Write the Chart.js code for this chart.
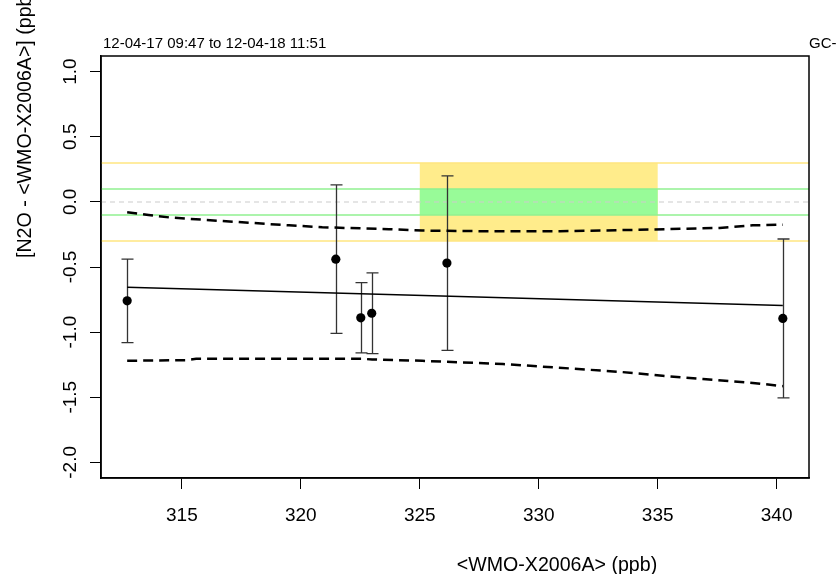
<!DOCTYPE html>
<html>
<head>
<meta charset="utf-8">
<script src="https://cdn.jsdelivr.net/npm/chart.js@4/dist/chart.umd.min.js"></script>
<style>
  html, body { margin: 0; padding: 0; background: #fff; }
  canvas { display: block; }
</style>
</head>
<body>
<canvas id="gcCanvas" width="838" height="574"></canvas>
<script>
// measurements (x = reference value, y = difference)
const xVals = [312.70, 321.47, 322.52, 322.98, 326.14, 340.26];
const yVals = [-0.76, -0.44, -0.89, -0.855, -0.47, -0.895];
const yErr = [0.32, 0.57, 0.27, 0.31, 0.67, 0.61];

// fitted line
const fitX = [312.70, 340.26];
const fitY = [-0.655, -0.795];

// confidence band
const upperX = [312.7, 313.6, 314.5, 315.3, 317.8, 319.5, 320.9, 321.9, 323.7, 325.1, 327.5, 330.9, 334.1, 337.6, 339.0, 340.26];
const upperY = [-0.08, -0.10, -0.12, -0.13, -0.16, -0.18, -0.195, -0.20, -0.21, -0.22, -0.225, -0.225, -0.215, -0.20, -0.18, -0.175];
const lowerX = [312.7, 315.2, 315.6, 322.6, 323.0, 325.1, 328.5, 330.6, 333.4, 335.2, 336.9, 339.0, 340.26];
const lowerY = [-1.22, -1.215, -1.205, -1.205, -1.21, -1.22, -1.245, -1.27, -1.305, -1.335, -1.36, -1.39, -1.415];

// target ranges
const compatRange = [325, 335];
const outerLimit = 0.3;
const innerLimit = 0.1;

const xTicks = [315, 320, 325, 330, 335, 340];
const yTicks = [1.0, 0.5, 0.0, -0.5, -1.0, -1.5, -2.0];
const yTickLabels = ["1.0", "0.5", "0.0", "-0.5", "-1.0", "-1.5", "-2.0"];

const titleText = "12-04-17 09:47 to 12-04-18 11:51";
const sideText = "GC-";
const xTitle = "<WMO-X2006A> (ppb)";
const yTitle = "[N2O - <WMO-X2006A>] (ppb)";

const FONT = '"Liberation Sans", Arial, sans-serif';

const toXY = (xs, ys) => xs.map((x, i) => ({ x: x, y: ys[i] }));

const backgroundPlugin = {
  id: "background",
  beforeDatasetsDraw(chart) {
    const { ctx, chartArea: a, scales: { x, y } } = chart;
    ctx.save();
    ctx.beginPath();
    ctx.rect(a.left, a.top, a.right - a.left, a.bottom - a.top);
    ctx.clip();

    const x0 = x.getPixelForValue(compatRange[0]);
    const x1 = x.getPixelForValue(compatRange[1]);
    ctx.fillStyle = "#FFEC8B";
    ctx.fillRect(x0, y.getPixelForValue(outerLimit), x1 - x0,
      y.getPixelForValue(-outerLimit) - y.getPixelForValue(outerLimit));
    ctx.fillStyle = "#98FB98";
    ctx.fillRect(x0, y.getPixelForValue(innerLimit), x1 - x0,
      y.getPixelForValue(-innerLimit) - y.getPixelForValue(innerLimit));

    const hline = (v, color, dash, w) => {
      const py = Math.round(y.getPixelForValue(v));
      ctx.strokeStyle = color;
      ctx.lineWidth = w;
      ctx.setLineDash(dash);
      ctx.beginPath();
      ctx.moveTo(a.left, py);
      ctx.lineTo(a.right, py);
      ctx.stroke();
    };
    hline(outerLimit, "#FFE680", [], 1.6);
    hline(-outerLimit, "#FFE680", [], 1.6);
    hline(innerLimit, "#90F090", [], 1.6);
    hline(-innerLimit, "#90F090", [], 1.6);
    hline(0, "#CCCCCC", [5, 4], 1.2);
    ctx.setLineDash([]);

    // error bars
    ctx.strokeStyle = "#333";
    ctx.lineWidth = 1.3;
    xVals.forEach((v, i) => {
      const px = Math.round(x.getPixelForValue(v)) + 0.5;
      const top = y.getPixelForValue(yVals[i] + yErr[i]);
      const bot = y.getPixelForValue(yVals[i] - yErr[i]);
      ctx.beginPath();
      ctx.moveTo(px, top);
      ctx.lineTo(px, bot);
      ctx.moveTo(px - 6, top);
      ctx.lineTo(px + 6, top);
      ctx.moveTo(px - 6, bot);
      ctx.lineTo(px + 6, bot);
      ctx.stroke();
    });
    ctx.restore();
  },
  afterDraw(chart) {
    const { ctx, chartArea: a, scales: { x, y } } = chart;
    ctx.save();
    ctx.strokeStyle = "#000";
    ctx.lineWidth = 1.5;
    ctx.strokeRect(a.left, a.top, a.right - a.left, a.bottom - a.top);

    ctx.fillStyle = "#000";
    ctx.font = "19px " + FONT;
    ctx.textAlign = "center";
    ctx.textBaseline = "alphabetic";
    xTicks.forEach(v => ctx.fillText(String(v), x.getPixelForValue(v), 521));

    yTicks.forEach((v, i) => {
      ctx.save();
      ctx.translate(76, y.getPixelForValue(v));
      ctx.rotate(-Math.PI / 2);
      ctx.textAlign = "center";
      ctx.fillText(yTickLabels[i], 0, 0);
      ctx.restore();
    });

    ctx.font = "19.6px " + FONT;
    ctx.fillText(xTitle, 557, 571);

    ctx.save();
    ctx.translate(31, 258);
    ctx.rotate(-Math.PI / 2);
    ctx.textAlign = "left";
    ctx.fillText(yTitle, 0, 0);
    ctx.restore();

    ctx.font = "15px " + FONT;
    ctx.textAlign = "left";
    ctx.fillText(titleText, 103, 48);
    ctx.fillText(sideText, 809, 48);
    ctx.restore();
  }
};

const axisStyle = {
  type: "linear",
  ticks: { display: false },
  grid: { drawOnChartArea: false, drawTicks: true, tickLength: 11, color: "#000", lineWidth: 1 },
  border: { display: true, color: "#000", width: 1.5 }
};

const config = {
  type: "scatter",
  data: {
    datasets: [
      {
        label: "measurements",
        data: toXY(xVals, yVals),
        pointRadius: 4.6,
        pointHoverRadius: 4.6,
        backgroundColor: "#000",
        borderWidth: 0,
        order: 0
      },
      {
        label: "fit",
        data: toXY(fitX, fitY),
        showLine: true,
        pointRadius: 0,
        borderColor: "#000",
        borderWidth: 1.5,
        order: 1
      },
      {
        label: "upper",
        data: toXY(upperX, upperY),
        showLine: true,
        pointRadius: 0,
        borderColor: "#000",
        borderWidth: 2.5,
        borderDash: [10, 6],
        order: 1
      },
      {
        label: "lower",
        data: toXY(lowerX, lowerY),
        showLine: true,
        pointRadius: 0,
        borderColor: "#000",
        borderWidth: 2.5,
        borderDash: [10, 6],
        order: 1
      }
    ]
  },
  options: {
    responsive: false,
    devicePixelRatio: 1,
    animation: false,
    layout: { padding: { top: 56, right: 29, left: 0, bottom: 0 } },
    plugins: {
      legend: { display: false },
      tooltip: { enabled: false }
    },
    scales: {
      x: Object.assign({}, axisStyle, {
        position: "bottom",
        min: 311.6,
        max: 341.36,
        afterBuildTicks: s => { s.ticks = xTicks.map(v => ({ value: v })); },
        afterFit: s => { s.height = 96; }
      }),
      y: Object.assign({}, axisStyle, {
        position: "left",
        min: -2.12,
        max: 1.12,
        afterBuildTicks: s => { s.ticks = yTicks.map(v => ({ value: v })); },
        afterFit: s => { s.width = 101; }
      })
    }
  },
  plugins: [backgroundPlugin]
};

const canvas = document.getElementById("gcCanvas");
if (canvas) {
  new Chart(canvas.getContext("2d"), config);
} else {
  console.error("canvas not found");
}
</script>
</body>
</html>
